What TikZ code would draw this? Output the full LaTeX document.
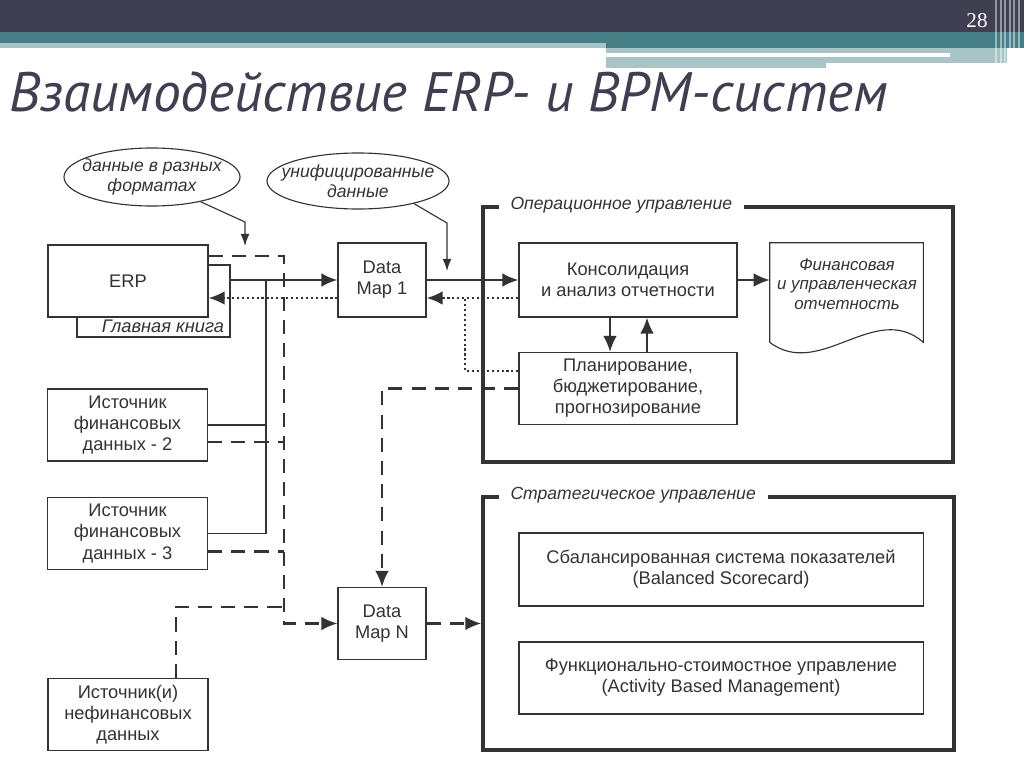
\documentclass[tikz,border=0pt]{standalone}
\usepackage{fontspec}
\setmainfont{Liberation Sans}
\newfontfamily\titlefont{PT Sans}
\newfontfamily\numfont{Liberation Serif}
\usetikzlibrary{arrows.meta,calc,shapes.geometric}
\definecolor{hdrdark}{HTML}{3F3F51}
\definecolor{hdrteal}{HTML}{468086}
\definecolor{hdrlight}{HTML}{A7C5C7}
\definecolor{ink}{HTML}{333333}

\begin{document}
\begin{tikzpicture}
[x=0.025cm, y=-0.025cm,
every node/.style={text=ink, align=center, font=\fontsize{13}{15}\selectfont},
box/.style={draw=ink, line width=0.8pt, fill=white, inner sep=0pt},
bigframe/.style={draw=ink, line width=2.4pt, inner sep=0pt},
bubble/.style={ellipse, draw=ink, line width=0.8pt, inner xsep=-0.33cm, inner ysep=0pt,
  font=\fontsize{12.5}{14.5}\selectfont\itshape},
conn/.style={draw=ink, line width=1.4pt},
arrowhead/.style={-{Latex[length=4mm,width=3.4mm]}},
pointer/.style={draw=ink, line width=0.8pt, -{Latex[length=3mm,width=2.2mm]}},
dashline/.style={conn, line width=1.6pt, dash pattern=on 10pt off 6.5pt},
dotline/.style={conn, line width=1.5pt, dash pattern=on 1.5pt off 2pt},
]
\useasboundingbox (0,0) rectangle (1024,767);

% header
\fill[hdrdark] (0,0) rectangle (1024,32);
\fill[hdrteal] (0,32) rectangle (1024,48);
\fill[hdrlight] (0,43) rectangle (606,48);
\fill[hdrlight] (606,48) rectangle (1007,63);
\fill[hdrlight] (606,63) rectangle (826,68);
\fill[white] (606,53) rectangle (950,57);
\foreach \x in {996,1001,1005,1010,1014,1019}
  \draw[white, opacity=0.45, line width=1.2pt] (\x,0) -- (\x,64);
\node[text=white, font=\numfont\fontsize{15}{15}\selectfont] (pagenum) at (977,21) {28};
\node[anchor=base west, inner sep=0pt, text=hdrdark,
  font=\titlefont\itshape\fontsize{39.5}{42}\selectfont] (title) at (9,112)
  {Взаимодействие ERP- и BPM-систем};

% frames
\node[bigframe, minimum width=11.75cm, minimum height=6.375cm] (opbox) at (718,334.5) {};
\node[bigframe, minimum width=11.775cm, minimum height=6.325cm] (stbox) at (718.5,623.5) {};
\node[fill=white, anchor=west, inner xsep=0.3cm, font=\fontsize{12.5}{14}\selectfont\itshape]
  (optitle) at ([xshift=0.425cm]opbox.north west) {Операционное управление};
\node[fill=white, anchor=west, inner xsep=0.3cm, font=\fontsize{12.5}{14}\selectfont\itshape]
  (sttitle) at ([xshift=0.425cm]stbox.north west) {Стратегическое управление};

% sources
\node[box, minimum width=3.825cm, minimum height=1.8cm] (book) at (153.5,301) {};
\node[font=\fontsize{13}{15}\selectfont\itshape] (booktxt) at (163,326) {Главная книга};
\node[box, minimum width=4cm, minimum height=1.8cm] (erp) at (128,281) {ERP};
\node[box, minimum width=4cm, minimum height=1.8cm] (src2) at (127.5,425)
  {Источник\\финансовых\\данных - 2};
\node[box, minimum width=4cm, minimum height=1.8cm] (src3) at (127.5,533.5)
  {Источник\\финансовых\\данных - 3};
\node[box, minimum width=4cm, minimum height=1.8cm] (srcn) at (128,714.5)
  {Источник(и)\\нефинансовых\\данных};

% data maps
\node[box, minimum width=2.2cm, minimum height=1.85cm] (dm1) at (382,280) {Data\\Map 1};
\node[box, minimum width=2.2cm, minimum height=1.8cm] (dmn) at (382,623.5) {Data\\Map N};

% BPM
\node[box, minimum width=5.45cm, minimum height=1.85cm] (cons) at (628,280)
  {Консолидация\\и анализ отчетности};
\node[box, minimum width=5.45cm, minimum height=1.8cm] (plan) at (628,388.5)
  {Планирование,\\бюджетирование,\\прогнозирование};
\node[box, minimum width=10.1cm, minimum height=1.825cm] (bsc) at (721,569.5)
  {Сбалансированная система показателей\\(Balanced Scorecard)};
\node[box, minimum width=10.1cm, minimum height=1.8cm] (abm) at (721,678)
  {Функционально-стоимостное управление\\(Activity Based Management)};

% report (document shape)
\node[minimum width=3.825cm, minimum height=2.475cm, inner sep=0pt] (doc) at (846.5,292.5) {};
\draw[draw=ink, line width=0.8pt] (doc.south west) -- (doc.north west) -- (doc.north east)
  -- (doc.south east) .. controls +(-48,-42) and +(50,38) .. (doc.south west);
\node[font=\fontsize{12}{13.8}\selectfont\itshape] (doctxt) at (847,284)
  {Финансовая\\и управленческая\\отчетность};

% bubbles
\node[bubble, minimum width=4.4cm, minimum height=1.45cm] (fmt) at (152,177)
  {данные в разных\\форматах};
\node[bubble, minimum width=4.55cm, minimum height=1.4cm] (uni) at (358,181)
  {унифицированные\\данные};
\coordinate (fmtbend) at (245,222);
\coordinate (fmtend) at (245,246);
\coordinate (unibend) at (447,223);
\coordinate (uniend) at (447,271);
\draw[pointer] (fmt.-27) -- (fmtbend) -- (fmtend);
\draw[pointer] (uni.-22) -- (unibend) -- (uniend);

% solid flow
\coordinate (busx) at (266,0);
\draw[conn, arrowhead] (book.east |- dm1.west) -- (dm1.west);
\draw[conn] (src3.east) -| (busx |- dm1.west);
\draw[conn] (src2.east) -- (src2.east -| busx);
\draw[conn, arrowhead] (dm1.east) -- (cons.west);
\draw[conn, arrowhead] (cons.east) -- (cons.east -| doc.west);
\draw[conn, arrowhead] ([xshift=-0.45cm]cons.south) -- ([xshift=-0.45cm]plan.north);
\draw[conn, arrowhead] ([xshift=0.475cm]plan.north) -- ([xshift=0.475cm]cons.south);

% dashed flow
\coordinate (dashx) at (284,0);
\coordinate (erpd) at ($(erp.east)+(0,-25)$);
\coordinate (s2d) at ($(src2.east)+(0,17)$);
\coordinate (s3d) at ($(src3.east)+(0,18)$);
\coordinate (nfup) at (176,607);
\draw[dashline, arrowhead] (erpd) -| (dashx |- dmn.west) -- (dmn.west);
\draw[dashline] (s2d) -- (s2d -| dashx);
\draw[dashline] (s3d) -- (s3d -| dashx);
\draw[dashline] (srcn.north -| nfup) |- (nfup -| dashx);
\draw[dashline, arrowhead] (plan.west) -| (dmn.north);
\draw[dashline, arrowhead] (dmn.east) -- (dmn.east -| stbox.west);

% dotted flow
\coordinate (d1w) at ($(dm1.west)+(0,18)$);
\coordinate (cw) at ($(cons.west)+(0,18)$);
\coordinate (pw) at ($(plan.west)+(0,-17.5)$);
\coordinate (dotx) at (465,0);
\draw[dotline, arrowhead] (d1w) -- (d1w -| erp.east);
\draw[dotline, arrowhead] (cw) -- (cw -| dm1.east);
\draw[dotline] (pw) -| (dotx |- cw);
\end{tikzpicture}
\end{document}
